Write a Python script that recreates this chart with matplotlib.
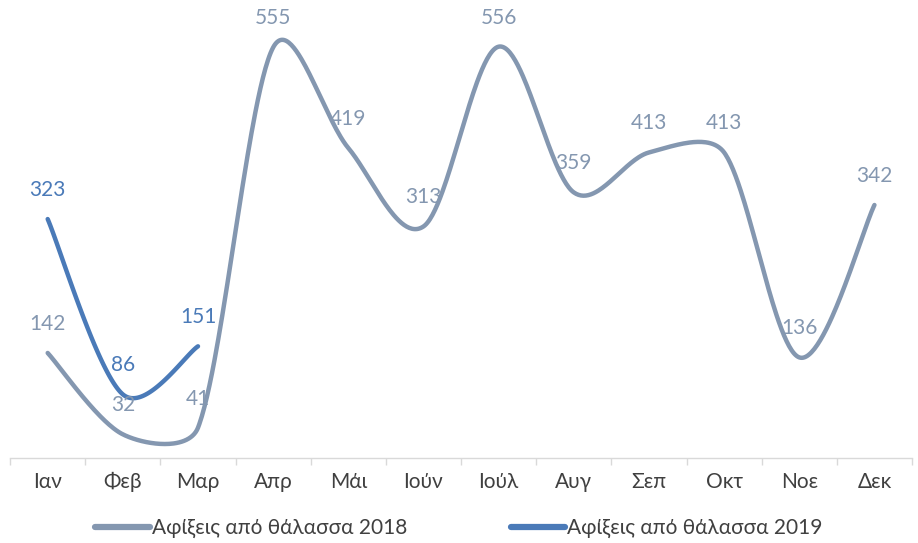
import numpy as np
import matplotlib
matplotlib.use("Agg")
import matplotlib.pyplot as plt

months = ["Ιαν", "Φεβ", "Μαρ", "Απρ", "Μάι", "Ιούν", "Ιούλ", "Αυγ", "Σεπ", "Οκτ", "Νοε", "Δεκ"]
arrivals_2018 = [142, 32, 41, 555, 419, 313, 556, 359, 413, 413, 136, 342]
arrivals_2019 = [323, 86, 151]
label_2018 = "Αφίξεις από θάλασσα 2018"
label_2019 = "Αφίξεις από θάλασσα 2019"

GRAY = "#8497b0"
BLUE = "#4a7ab8"
FS = 15

plt.rcParams['font.family'] = ['Lato', 'DejaVu Sans']

fig = plt.figure(figsize=(9.18, 5.43), dpi=100)
ax = fig.add_axes([0.011, 0.1565, 0.9825, 0.8175])
ax.set_xlim(-0.5, len(months) - 0.5)
ax.set_ylim(0, 600)


def smooth(xs, ys, n=60):
    # Excel-like smoothing: Catmull-Rom Bezier (tension 1/6) in screen space,
    # with handle length clamped to a third of the adjacent chord
    pts = ax.transData.transform(np.column_stack([xs, ys]).astype(float))
    m = len(pts)
    tang = []
    for i in range(m):
        a = pts[max(i - 1, 0)]
        b = pts[min(i + 1, m - 1)]
        tang.append((b - a) / 6.0)
    out = []
    for i in range(m - 1):
        p0, p3 = pts[i], pts[i + 1]
        chord = np.linalg.norm(p3 - p0) / 3
        t0, t1 = tang[i], tang[i + 1]
        l0, l1 = np.linalg.norm(t0), np.linalg.norm(t1)
        if l0 > chord:
            t0 = t0 * chord / l0
        if l1 > chord:
            t1 = t1 * chord / l1
        p1 = p0 + t0
        p2 = p3 - t1
        t = np.linspace(0, 1, n)[:, None]
        seg = ((1 - t) ** 3) * p0 + 3 * ((1 - t) ** 2) * t * p1 + 3 * (1 - t) * t ** 2 * p2 + t ** 3 * p3
        out.append(seg)
    out = np.vstack(out)
    data = ax.transData.inverted().transform(out)
    return data[:, 0], data[:, 1]


x18 = np.arange(len(arrivals_2018))
x19 = np.arange(len(arrivals_2019))
sx, sy = smooth(x18, arrivals_2018)
ax.plot(sx, sy, color=GRAY, lw=3.2, solid_capstyle='round', label=label_2018, clip_on=False)
sx, sy = smooth(x19, arrivals_2019)
ax.plot(sx, sy, color=BLUE, lw=3.2, solid_capstyle='round', label=label_2019, clip_on=False)

for xi, v in zip(x18, arrivals_2018):
    ax.annotate(str(v), (xi, v), xytext=(0, 21), textcoords='offset points',
                ha='center', va='center', fontsize=FS, color=GRAY)
for xi, v in zip(x19, arrivals_2019):
    ax.annotate(str(v), (xi, v), xytext=(0, 21), textcoords='offset points',
                ha='center', va='center', fontsize=FS, color=BLUE)

ax.set_yticks([])
for s in ['top', 'right', 'left']:
    ax.spines[s].set_visible(False)
ax.spines['bottom'].set_color('#d9d9d9')
ax.spines['bottom'].set_linewidth(1)

ax.set_xticks(np.arange(-0.5, len(months), 1.0))
ax.set_xticklabels([])
ax.tick_params(axis='x', which='major', length=5, color='#d9d9d9', width=1)
ax.set_xticks(np.arange(len(months)), minor=True)
ax.set_xticklabels(months, minor=True, fontsize=FS, color='#404040')
ax.tick_params(axis='x', which='minor', length=0, pad=10)

leg = fig.legend(loc='center', bbox_to_anchor=(0.5, 1 - 528 / 543), ncol=2, frameon=False,
                 fontsize=FS, handlelength=2.6, handletextpad=0.1, columnspacing=5.0,
                 labelcolor='#404040')
for h in leg.get_lines():
    h.set_linewidth(4.5)

fig.savefig("out.png", dpi=100)
